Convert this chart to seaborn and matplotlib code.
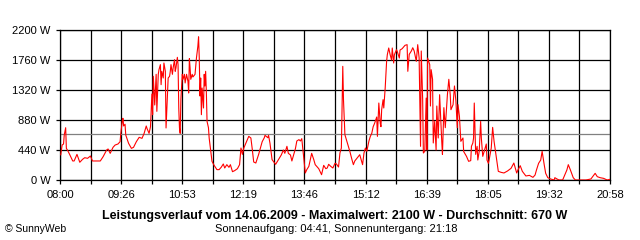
import matplotlib
matplotlib.use("Agg")
from matplotlib import pyplot as plt
from matplotlib.ticker import FixedLocator
import seaborn as sns

# minutes since 08:00 and measured power in W
minutes = [1, 3, 5, 6, 8, 9, 11, 14, 18, 20, 24, 26, 28, 32, 35, 39, 43, 46, 52, 57,
           61, 66, 68, 71, 75, 78, 82, 85, 86, 88, 89, 90, 92, 93, 97, 101, 104, 108, 112, 116,
           119, 122, 123, 126, 128, 130, 131, 132, 134, 136, 137, 139, 140, 142, 143, 144, 146, 147, 149, 150,
           152, 153, 155, 156, 157, 159, 160, 162, 163, 164, 166, 167, 168, 169, 170, 171, 173, 174, 176, 177,
           179, 181, 182, 183, 184, 185, 187, 188, 191, 193, 195, 196, 197, 198, 199, 200, 201, 203, 204, 205,
           206, 207, 208, 210, 211, 213, 215, 218, 222, 225, 228, 231, 233, 236, 239, 241, 244, 247, 251, 254,
           256, 258, 260, 264, 267, 270, 272, 274, 277, 281, 286, 289, 290, 294, 295, 297, 300, 302, 305, 309,
           313, 316, 318, 321, 323, 326, 328, 331, 333, 335, 338, 340, 342, 345, 347, 349, 352, 356, 359, 361,
           366, 370, 373, 376, 378, 380, 383, 386, 389, 391, 394, 396, 398, 399, 400, 401, 403, 405, 408, 410,
           413, 415, 417, 420, 424, 426, 428, 430, 432, 434, 437, 439, 441, 443, 445, 448, 449, 451, 453, 454,
           455, 457, 458, 460, 462, 463, 465, 467, 469, 470, 472, 473, 476, 477, 480, 481, 484, 488, 491, 492,
           494, 497, 499, 501, 504, 506, 508, 509, 510, 511, 513, 514, 516, 518, 519, 520, 523, 524, 525, 527,
           528, 530, 532, 533, 535, 537, 540, 541, 543, 545, 548, 550, 552, 553, 556, 558, 560, 562, 563, 565,
           567, 570, 571, 575, 578, 581, 582, 584, 585, 586, 588, 590, 591, 593, 595, 596, 598, 600, 603, 604,
           606, 607, 610, 612, 614, 616, 618, 620, 624, 628, 633, 638, 642, 646, 648, 651, 654, 659, 664, 669,
           672, 674, 677, 680, 682, 685, 687, 690, 694, 699, 700, 703, 706, 711, 714, 717, 719, 722, 726, 729,
           734, 739, 744, 751, 757, 760, 764, 769, 774, 778]
watts = [367, 513, 528, 660, 767, 464, 430, 367, 279, 279, 376, 318, 260, 304, 327, 318, 352, 279, 279, 279,
         342, 440, 455, 391, 479, 513, 528, 562, 684, 855, 905, 792, 818, 660, 538, 464, 479, 562, 626, 611,
         684, 792, 758, 684, 782, 1261, 958, 1521, 1100, 1550, 1007, 1550, 1618, 1692, 1398, 1594, 1496, 1716, 1594, 763,
         1251, 1496, 1521, 1594, 1692, 1550, 1643, 1765, 1594, 1643, 1799, 1692, 1056, 763, 684, 1188, 1550, 1477, 1550, 1423,
         1550, 1447, 1276, 1780, 1643, 1477, 1550, 1511, 1550, 1789, 1961, 2100, 1789, 1232, 1496, 958, 1349, 1056, 1550, 1379,
         1594, 1300, 860, 767, 616, 445, 274, 215, 152, 152, 186, 235, 176, 225, 186, 225, 122, 137, 166, 225,
         469, 376, 469, 567, 640, 616, 450, 264, 249, 376, 562, 620, 655, 620, 655, 540, 298, 270, 230, 298,
         367, 440, 391, 494, 391, 367, 279, 391, 460, 572, 592, 572, 606, 298, 103, 150, 200, 391, 298, 225,
         166, 78, 215, 166, 176, 230, 200, 176, 245, 235, 190, 396, 469, 1056, 1667, 1178, 665, 596, 494, 420,
         298, 225, 279, 318, 371, 298, 225, 396, 469, 420, 572, 640, 684, 782, 831, 924, 640, 1129, 831, 782,
         1031, 1178, 1056, 1349, 1740, 1838, 1936, 1838, 1760, 1936, 1716, 1838, 1911, 1887, 1789, 1906, 1926, 1975, 1985, 1594,
         1843, 1892, 1940, 1892, 1740, 1985, 1790, 1178, 494, 1892, 1178, 396, 420, 1202, 440, 1789, 1692, 1085, 1618, 1477,
         543, 860, 440, 1085, 616, 1251, 567, 376, 1061, 767, 1251, 1477, 1251, 1031, 1105, 1379, 1159, 767, 1105, 934,
         567, 616, 418, 347, 274, 284, 494, 543, 616, 1129, 376, 494, 293, 420, 860, 616, 347, 420, 528, 293,
         245, 293, 469, 772, 567, 420, 274, 127, 112, 103, 132, 171, 249, 103, 152, 210, 127, 59, 68, 39,
         73, 147, 245, 293, 420, 220, 98, 34, 15, 0, 34, 15, 0, 0, 73, 147, 225, 147, 34, 0,
         0, 0, 0, 15, 98, 49, 34, 24, 0, 10]

time_labels = ["08:00", "09:26", "10:53", "12:19", "13:46", "15:12", "16:39", "18:05", "19:32", "20:58"]
y_ticks = [0, 440, 880, 1320, 1760, 2200]
span_minutes = 778
average_w = 670
max_w = 2100

sns.set_theme(style="white")
plt.rcParams["font.family"] = ["Liberation Sans", "DejaVu Sans"]
plt.rcParams["font.size"] = 8

fig = plt.figure(figsize=(6.4, 2.4), dpi=100)
ax = fig.add_axes([60 / 640, 60 / 240, 550 / 640, 150 / 240])

major = [span_minutes * i / 9 for i in range(10)]
minor = [span_minutes * (i + 0.5) / 9 for i in range(9)]
ax.xaxis.set_major_locator(FixedLocator(major))
ax.xaxis.set_minor_locator(FixedLocator(minor))
ax.set_xticklabels(time_labels)
ax.set_yticks(y_ticks)
ax.set_yticklabels([f"{v} W" for v in y_ticks])
ax.set_xlim(0, span_minutes)
ax.set_ylim(0, 2200)

ax.grid(True, which="both", axis="x", color="black", linewidth=0.9)
ax.grid(True, which="major", axis="y", color="black", linewidth=0.9)
ax.set_axisbelow(True)
ax.tick_params(axis="both", which="both", direction="out", length=3, width=0.9, color="black",
               labelsize=8, labelcolor="black")
ax.tick_params(axis="x", which="both", bottom=True, pad=4)
ax.tick_params(axis="y", left=True, pad=4)
for sp in ax.spines.values():
    sp.set_color("black")
    sp.set_linewidth(0.9)

ax.axhline(average_w, color="#808080", linewidth=0.9, zorder=2)
sns.lineplot(x=minutes, y=watts, color="red", linewidth=0.8, ax=ax, zorder=3)
ax.set_xlabel("")
ax.set_ylabel("")

fig.text(335 / 640, 1 - 216 / 240,
         f"Leistungsverlauf vom 14.06.2009 - Maximalwert: {max_w} W - Durchschnitt: {average_w} W",
         ha="center", va="center", fontsize=9, fontweight="bold", color="black")
fig.text(336 / 640, 1 - 229 / 240, "Sonnenaufgang: 04:41, Sonnenuntergang: 21:18",
         ha="center", va="center", fontsize=8, color="black")
fig.text(5 / 640, 1 - 229 / 240, "© SunnyWeb", ha="left", va="center", fontsize=7.5, color="black")

fig.savefig("out.png", dpi=100, facecolor="white")
